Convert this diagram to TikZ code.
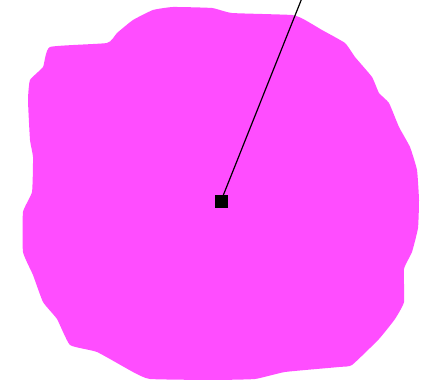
\documentclass[tikz,border=0pt]{standalone}
\definecolor{blob}{RGB}{255,77,255}
\begin{document}
\begin{tikzpicture}[x=1pt,y=-1pt,
  pin/.style={draw=black,fill=black,minimum size=12pt,inner sep=0pt,rectangle},
  leader/.style={draw=black,line width=1.2pt}]
\useasboundingbox[fill=white] (0,0) rectangle (424,385);
\fill[blob] plot[smooth cycle,tension=0.25] coordinates {
 (50,47) (107,43) (117,33) (133,20) (153,10) (173,7) (212,8) (232,13) (292,15)
 (305,20) (322,30) (345,43) (355,57) (372,77) (379,93) (389,103) (399,127)
 (410,147) (417,170) (419,200) (418,228) (412,252) (404,269) (404,302) (395,319)
 (379,339) (352,365) (339,367) (285,372) (255,379) (212,380) (150,379) (133,372)
 (97,352) (70,345) (57,319) (43,302) (33,275) (23,252) (23,212) (32,192) (33,157)
 (30,140) (28,100) (30,80) (43,67)};
\node[pin] (p) at (221,201) {};
\coordinate (t) at (302,-2);
\draw[leader] (p.center) -- (t);
\end{tikzpicture}
\end{document}
